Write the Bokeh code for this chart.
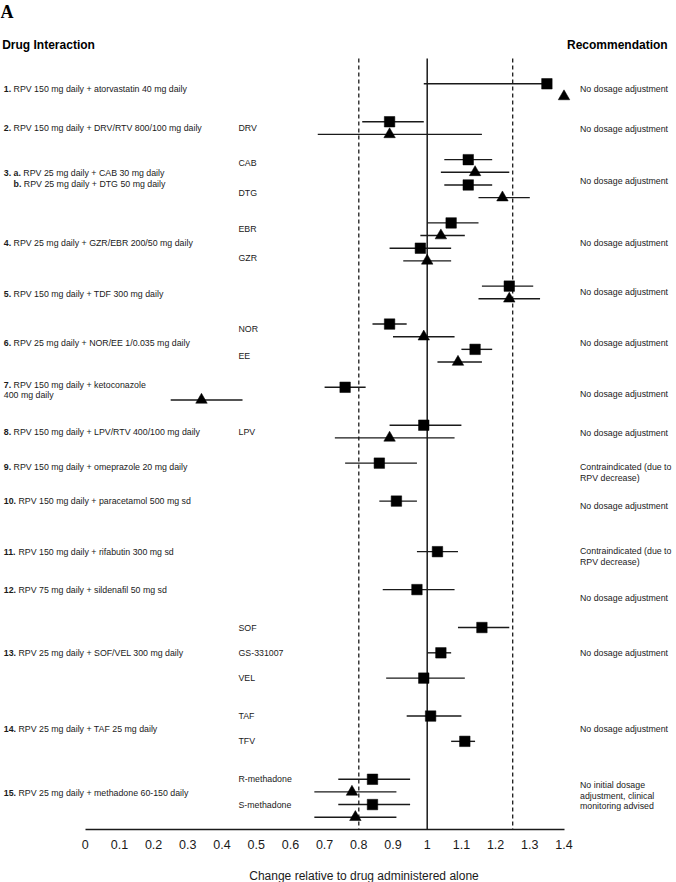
from bokeh.plotting import figure
from bokeh.models import Range1d, FixedTicker, ColumnDataSource
from bokeh.core.properties import value
from bokeh.embed import file_html
from bokeh.resources import INLINE

# ---------------- data ----------------
row_labels = [
    [("1.", "RPV 150 mg daily + atorvastatin 40 mg daily")],
    [("2.", "RPV 150 mg daily + DRV/RTV 800/100 mg daily")],
    [("3. a.", "RPV 25 mg daily + CAB 30 mg daily"), ("b.", "RPV 25 mg daily + DTG 50 mg daily")],
    [("4.", "RPV 25 mg daily + GZR/EBR 200/50 mg daily")],
    [("5.", "RPV 150 mg daily + TDF 300 mg daily")],
    [("6.", "RPV 25 mg daily + NOR/EE 1/0.035 mg daily")],
    [("7.", "RPV 150 mg daily + ketoconazole"), ("", "400 mg daily")],
    [("8.", "RPV 150 mg daily + LPV/RTV 400/100 mg daily")],
    [("9.", "RPV 150 mg daily + omeprazole 20 mg daily")],
    [("10.", "RPV 150 mg daily + paracetamol 500 mg sd")],
    [("11.", "RPV 150 mg daily + rifabutin 300 mg sd")],
    [("12.", "RPV 75 mg daily + sildenafil 50 mg sd")],
    [("13.", "RPV 25 mg daily + SOF/VEL 300 mg daily")],
    [("14.", "RPV 25 mg daily + TAF 25 mg daily")],
    [("15.", "RPV 25 mg daily + methadone 60-150 daily")],
]

recommendations = [
    "No dosage adjustment", "No dosage adjustment", "No dosage adjustment",
    "No dosage adjustment", "No dosage adjustment", "No dosage adjustment",
    "No dosage adjustment", "No dosage adjustment",
    "Contraindicated (due to\nRPV decrease)",
    "No dosage adjustment",
    "Contraindicated (due to\nRPV decrease)",
    "No dosage adjustment", "No dosage adjustment", "No dosage adjustment",
    "No initial dosage\nadjustment, clinical\nmonitoring advised",
]

sub_labels = ["DRV", "CAB", "DTG", "EBR", "GZR", "NOR", "EE", "LPV",
              "SOF", "GS-331007", "VEL", "TAF", "TFV", "R-methadone", "S-methadone"]

marker_row = [1, 1, 2, 2, 3, 3, 3, 3, 4, 4, 4, 4, 5, 5, 6, 6, 6, 6, 7, 7, 8, 8,
              9, 10, 11, 12, 13, 13, 13, 14, 14, 15, 15, 15, 15]
marker_shape = ["square", "triangle", "square", "triangle",
                "square", "triangle", "square", "triangle",
                "square", "triangle", "square", "triangle",
                "square", "triangle",
                "square", "triangle", "square", "triangle",
                "square", "triangle", "square", "triangle",
                "square", "square", "square", "square",
                "square", "square", "square", "square", "square",
                "square", "triangle", "square", "triangle"]
estimate = [1.35, 1.40, 0.89, 0.89, 1.12, 1.14, 1.12, 1.22, 1.07, 1.04, 0.98, 1.00,
            1.24, 1.24, 0.89, 0.99, 1.14, 1.09, 0.76, 0.34, 0.99, 0.89,
            0.86, 0.91, 1.03, 0.97, 1.16, 1.04, 0.99, 1.01, 1.11, 0.84, 0.78, 0.84, 0.79]
ci_low = [0.99, 1.40, 0.81, 0.68, 1.05, 1.04, 1.05, 1.15, 1.00, 0.98, 0.89, 0.93,
          1.16, 1.15, 0.84, 0.90, 1.10, 1.03, 0.70, 0.25, 0.89, 0.73,
          0.76, 0.86, 0.97, 0.87, 1.09, 1.00, 0.88, 0.94, 1.07, 0.74, 0.67, 0.74, 0.67]
ci_high = [1.35, 1.40, 0.99, 1.16, 1.19, 1.24, 1.19, 1.30, 1.15, 1.11, 1.07, 1.07,
           1.31, 1.33, 0.94, 1.08, 1.19, 1.16, 0.82, 0.46, 1.10, 1.08,
           0.97, 0.97, 1.09, 1.08, 1.24, 1.07, 1.11, 1.10, 1.14, 0.95, 0.91, 0.95, 0.91]

ref_lines = [0.8, 1.0, 1.25]
tick_values = [0, 0.1, 0.2, 0.3, 0.4, 0.5, 0.6, 0.7, 0.8, 0.9, 1, 1.1, 1.2, 1.3, 1.4]
tick_labels = ["0", "0.1", "0.2", "0.3", "0.4", "0.5", "0.6", "0.7", "0.8", "0.9",
               "1", "1.1", "1.2", "1.3", "1.4"]
x_title = "Change relative to drug administered alone"

# ---------------- layout ----------------
marker_slot = [0, 1, 3, 4, 6, 7, 8, 9, 11, 12, 13, 14, 16, 17, 19, 20, 21, 22, 24, 25,
               27, 28, 30, 33, 37, 40, 43, 45, 47, 50, 52, 55, 56, 57, 58]
row_slot = [0.45, 3.5, 7.47, 12.6, 16.6, 20.5, 24.23, 27.55, 30.3, 33.0, 37.0, 40.0,
            45.0, 51.0, 56.05]
sub_label_slot = [3.5, 6.3, 8.6, 11.5, 13.8, 19.4, 21.5, 27.5, 43, 45, 47, 50, 52, 55, 57]
rec_slot = [0.45, 3.6, 7.7, 12.6, 16.5, 20.5, 24.5, 27.65, 30.74, 33.35, 37.4, 40.7,
            45.0, 51.06, 56.3]

W, H = 676, 882
PX_PER_UNIT = 342.0
ZERO_PX = 84.7
X_START = -ZERO_PX / PX_PER_UNIT
X_END = X_START + W / PX_PER_UNIT
SLOT_PX = 12.645
SLOT0_PX = 83.3
FRAME_H = H
AXIS_PX = 829
Y_TOP = -SLOT0_PX / SLOT_PX
Y_BOT = Y_TOP + FRAME_H / SLOT_PX

FONT = "Liberation Sans"
FS = 8.8
TXT = "#1a1a1a"
LINE_H = 10.6


def xpx(px):
    return X_START + px / PX_PER_UNIT


def ypx(py):
    return Y_TOP + py / SLOT_PX


BOLD_W = {"0": .556, "1": .556, "2": .556, "3": .556, "4": .556, "5": .556, "6": .556,
          "7": .556, "8": .556, "9": .556, ".": .278, " ": .278, "a": .556, "b": .611}


def bold_width(s, fs):
    return sum(BOLD_W.get(c, .6) for c in s) * fs


p = figure(width=W, height=H, x_range=Range1d(X_START, X_END), y_range=Range1d(Y_BOT, Y_TOP),
           output_backend="svg", toolbar_location=None, y_axis_location=None,
           min_border_left=0, min_border_right=0, min_border_top=0, min_border_bottom=0)
p.xgrid.visible = False
p.ygrid.visible = False
p.outline_line_color = None
p.background_fill_color = "white"
p.border_fill_color = "white"

ax = p.xaxis[0]
ax.fixed_location = ypx(AXIS_PX)
ax.ticker = FixedTicker(ticks=tick_values)
ax.major_label_overrides = dict(zip(tick_values, tick_labels))
ax.bounds = (tick_values[0], tick_values[-1])
ax.axis_line_width = 1.5
ax.axis_line_color = TXT
ax.major_tick_line_color = None
ax.minor_tick_line_color = None
ax.major_label_text_font = FONT
ax.major_label_text_font_size = "12.5px"
ax.major_label_text_color = TXT
ax.major_label_standoff = 4

# x-axis title
p.text(x=[xpx(363.5)], y=[ypx(875)], text=[x_title], text_font=value(FONT),
       text_font_size="12px", text_color=TXT, text_baseline="middle", text_align="center")

# reference lines
for rv in ref_lines:
    dash = "solid" if rv == 1.0 else "4 3"
    p.segment(x0=[rv], x1=[rv], y0=[-2.0], y1=[ypx(AXIS_PX)], line_color=TXT,
              line_width=1.5 if rv == 1.0 else 1.3, line_dash=dash)

# confidence intervals and markers
src = ColumnDataSource(dict(
    est=estimate, lo=ci_low, hi=ci_high, slot=marker_slot, shape=marker_shape,
    size=[10.5 if m == "square" else 11.5 for m in marker_shape]))
p.segment(x0="lo", x1="hi", y0="slot", y1="slot", source=src, line_color=TXT, line_width=1.4)
p.scatter(x="est", y="slot", marker="shape", size="size", source=src,
          fill_color="black", line_color="black", line_width=0.5)

# row labels
bx, by, btxt, bxo, byo = [], [], [], [], []
nx, ny, ntxt, nxo, nyo = [], [], [], [], []
x_left = xpx(3.3)
for r, lines in enumerate(row_labels):
    n = len(lines)
    first_num = lines[0][0].split(" ")[0] + " "
    for li, (b, t) in enumerate(lines):
        yoff = (li - (n - 1) / 2) * LINE_H
        indent = bold_width(first_num, FS) if (li > 0 and b) else 0
        if b:
            bx.append(x_left); by.append(row_slot[r]); btxt.append(b)
            bxo.append(indent); byo.append(yoff)
            off = indent + bold_width(b + " ", FS)
        else:
            off = 0
        nx.append(x_left); ny.append(row_slot[r]); ntxt.append(t)
        nxo.append(off); nyo.append(yoff)

p.text(x="x", y="y", text="t", x_offset="xo", y_offset="yo",
       source=ColumnDataSource(dict(x=bx, y=by, t=btxt, xo=bxo, yo=byo)),
       text_font=value(FONT), text_font_size="8.8px", text_font_style="bold",
       text_color=TXT, text_baseline="middle", text_align="left")
p.text(x="x", y="y", text="t", x_offset="xo", y_offset="yo",
       source=ColumnDataSource(dict(x=nx, y=ny, t=ntxt, xo=nxo, yo=nyo)),
       text_font=value(FONT), text_font_size="8.8px",
       text_color=TXT, text_baseline="middle", text_align="left")

# sub labels
p.text(x=[xpx(238)] * len(sub_labels), y=sub_label_slot, text=sub_labels,
       text_font=value(FONT), text_font_size="8.8px", text_color=TXT,
       text_baseline="middle", text_align="left")

# recommendations
rx, ry, rt, ryo = [], [], [], []
for r, rec in enumerate(recommendations):
    parts = rec.split("\n")
    n = len(parts)
    for li, t in enumerate(parts):
        rx.append(xpx(579.5)); ry.append(rec_slot[r]); rt.append(t)
        ryo.append((li - (n - 1) / 2) * LINE_H)
p.text(x="x", y="y", text="t", y_offset="yo",
       source=ColumnDataSource(dict(x=rx, y=ry, t=rt, yo=ryo)),
       text_font=value(FONT), text_font_size="8.8px", text_color=TXT,
       text_baseline="middle", text_align="left")

# headers
p.text(x=[xpx(1.7)], y=[ypx(44)], text=["Drug Interaction"], text_font=value(FONT),
       text_font_size="12px", text_font_style="bold", text_color="black",
       text_baseline="middle", text_align="left")
p.text(x=[xpx(566.5)], y=[ypx(44)], text=["Recommendation"], text_font=value(FONT),
       text_font_size="12px", text_font_style="bold", text_color="black",
       text_baseline="middle", text_align="left")
p.text(x=[xpx(0)], y=[ypx(1)], text=["A"], text_font=value("Liberation Serif"),
       text_font_size="18px", text_font_style="bold", text_color="black",
       text_baseline="top", text_align="left")

open("out.html", "w").write(file_html(p, INLINE))
